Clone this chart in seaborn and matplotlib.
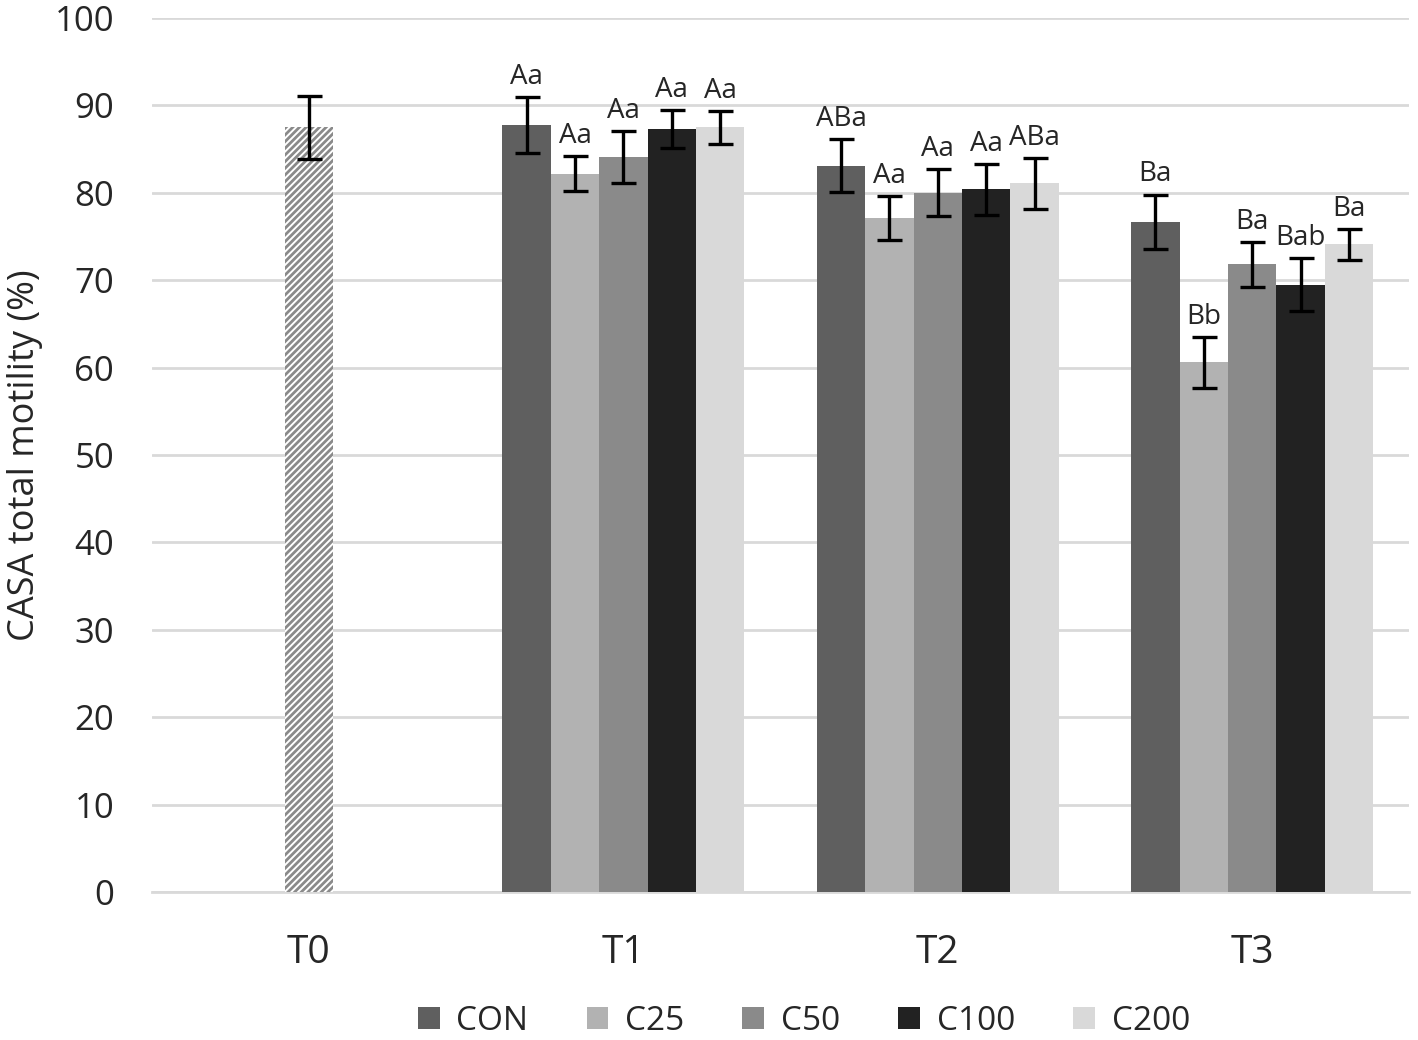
import pandas as pd
import matplotlib
matplotlib.use("Agg")
import matplotlib.pyplot as plt
import seaborn as sns
from matplotlib.patches import Patch

# ----------------------------
# Data
# ----------------------------
times = ["T0", "T1", "T2", "T3"]
treatments = ["CON", "C25", "C50", "C100", "C200"]
colors = ["#5f5f5f", "#b2b2b2", "#8a8a8a", "#222222", "#d9d9d9"]

t0_mean = 87.5
t0_sd = 3.6

# rows = T1, T2, T3 ; columns follow treatments
means = [
    [87.8, 82.2, 84.1, 87.3, 87.5],
    [83.1, 77.1, 80.0, 80.4, 81.1],
    [76.7, 60.6, 71.8, 69.5, 74.1],
]
sds = [
    [3.2, 2.0, 3.0, 2.2, 1.9],
    [3.0, 2.5, 2.7, 2.9, 2.9],
    [3.1, 2.9, 2.6, 3.0, 1.8],
]
letters = [
    ["Aa", "Aa", "Aa", "Aa", "Aa"],
    ["ABa", "Aa", "Aa", "Aa", "ABa"],
    ["Ba", "Bb", "Ba", "Bab", "Ba"],
]

rows = []
for i, t in enumerate(times[1:]):
    for j, tr in enumerate(treatments):
        rows.append({"time": t, "treatment": tr, "motility": means[i][j],
                     "sd": sds[i][j], "label": letters[i][j]})
df = pd.DataFrame(rows)

# ----------------------------
# Plot
# ----------------------------
sns.set_style("white")
plt.rcParams["font.family"] = ["Open Sans", "DejaVu Sans"]
plt.rcParams["hatch.linewidth"] = 2.0
plt.rcParams["hatch.color"] = "#8a8a8a"

fig = plt.figure(figsize=(14.18, 10.40), dpi=100)
ax = fig.add_axes([0.107, 0.1423, 0.887, 0.8404])

sns.barplot(data=df, x="time", y="motility", hue="treatment", order=times,
            hue_order=treatments, palette=colors, width=0.77, errorbar=None,
            saturation=1, linewidth=0, ax=ax, zorder=3)

# T0 baseline bar (hatched, no treatment)
bar_w = 0.77 / len(treatments)
ax.bar(0, t0_mean, width=bar_w, color="white", edgecolor="#8a8a8a",
       hatch="/////", linewidth=0, zorder=3)
ax.errorbar(0, t0_mean, yerr=t0_sd, fmt="none", ecolor="black",
            elinewidth=2.4, capsize=9, capthick=2.4, zorder=4)

# error bars + letters
lookup = df.set_index(["time", "treatment"])
for container, tr in zip(ax.containers, treatments):
    for bar in container:
        h = bar.get_height()
        if pd.isna(h) or h == 0:
            continue
        xc = bar.get_x() + bar.get_width() / 2
        t = times[int(round(xc))]
        row = lookup.loc[(t, tr)]
        ax.errorbar(xc, row["motility"], yerr=row["sd"], fmt="none",
                    ecolor="black", elinewidth=2.4, capsize=9, capthick=2.4,
                    zorder=4)
        ax.text(xc, row["motility"] + row["sd"] + 0.7, row["label"],
                ha="center", va="bottom", fontsize=20, zorder=5)

ax.set_ylim(0, 100)
ax.set_xlim(-0.5, 3.5)
ax.set_yticks(range(0, 101, 10))
ax.yaxis.grid(True, color="#d9d9d9", linewidth=2, zorder=0)
ax.set_axisbelow(True)
for s in ["top", "right", "left"]:
    ax.spines[s].set_visible(False)
ax.spines["bottom"].set_color("#d9d9d9")
ax.spines["bottom"].set_linewidth(2)
ax.tick_params(axis="y", labelsize=25, length=0, pad=27)
ax.tick_params(axis="x", labelsize=28, length=0, pad=30)
ax.set_xlabel("")
ax.set_ylabel("CASA total motility (%)", fontsize=26, labelpad=8)

if ax.get_legend() is not None:
    ax.get_legend().remove()
handles = [Patch(facecolor=c, edgecolor="none") for c in colors]
fig.legend(handles, treatments, loc="center", bbox_to_anchor=(0.567, 0.018),
           ncol=5, frameon=False, fontsize=24, handlelength=0.65,
           handleheight=0.65, handletextpad=0.5, columnspacing=1.75)

fig.savefig("out.png", dpi=100)
